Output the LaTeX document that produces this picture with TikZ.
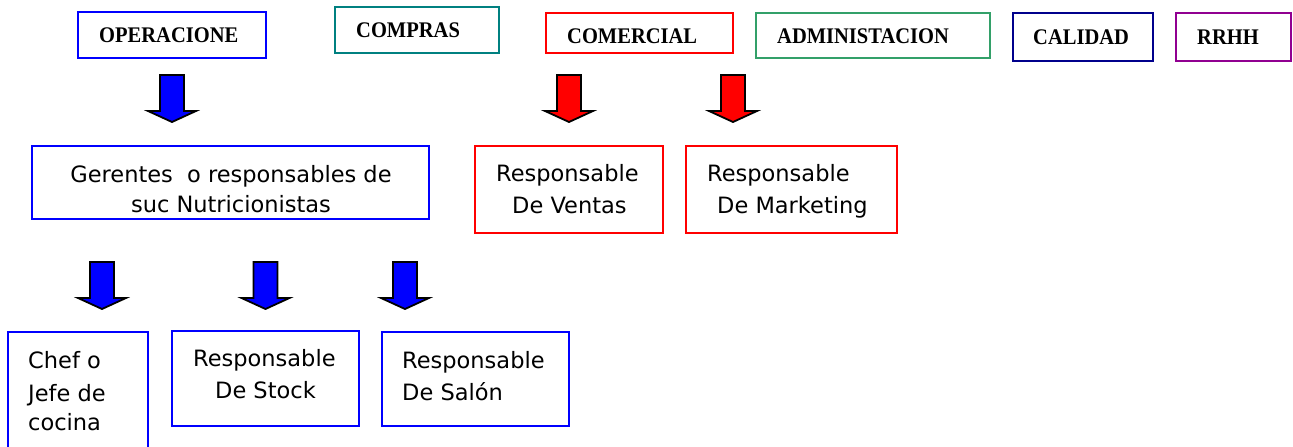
\documentclass[tikz,border=0pt]{standalone}
\usepackage{fontspec}
\setmainfont{DejaVu Sans}
\newfontfamily\titlefont[FakeStretch=0.92]{Liberation Serif}
\usetikzlibrary{fit}
\definecolor{opblue}{RGB}{0,0,255}
\definecolor{cteal}{RGB}{0,128,128}
\definecolor{cred}{RGB}{255,0,0}
\definecolor{cgreen}{RGB}{51,160,105}
\definecolor{cnavy}{RGB}{0,0,140}
\definecolor{cpurple}{RGB}{145,0,145}
\newcommand\blockdown[3]{%
  \draw[draw=black, fill=#3, line width=1.8pt, line join=miter]
    ({#1-12},#2) -- ({#1+12},#2) -- ({#1+12},{#2+36}) -- ({#1+24},{#2+36})
    -- (#1,{#2+47}) -- ({#1-24},{#2+36}) -- ({#1-12},{#2+36}) -- cycle;}
\tikzset{
  box/.style={draw=#1, line width=1.8pt, inner sep=0pt},
  ttl/.style={font=\titlefont\bfseries\fontsize{22.3}{22.3}\selectfont, inner sep=0pt, anchor=base west},
  txt/.style={font=\fontsize{22.5}{22.5}\selectfont, inner sep=0pt, anchor=base west},
  ctxt/.style={font=\fontsize{22.5}{22.5}\selectfont, inner sep=0pt, anchor=base}
}
\begin{document}
\begin{tikzpicture}[x=1pt,y=-1pt]
\useasboundingbox (0,0) rectangle (1293,447);
\clip (0,0) rectangle (1293,447);
\fill[white] (0,0) rectangle (1293,447);
% top row
\node[box=opblue, fit={(78,12)(266,58)}] (ops) {};
\node[ttl] (opsT) at (99,42) {OPERACIONE};
\node[box=cteal, fit={(335,7)(499,53)}] (com) {};
\node[ttl] (comT) at (356,37) {COMPRAS};
\node[box=cred, fit={(546,13)(733,53)}] (cml) {};
\node[ttl] (cmlT) at (567,43) {COMERCIAL};
\node[box=cgreen, fit={(756,13)(990,58)}] (adm) {};
\node[ttl] (admT) at (777,43) {ADMINISTACION};
\node[box=cnavy, fit={(1013,13)(1153,61)}] (cal) {};
\node[ttl] (calT) at (1033,44) {CALIDAD};
\node[box=cpurple, fit={(1176,13)(1291,61)}] (rrh) {};
\node[ttl] (rrhT) at (1197,44) {RRHH};
% arrows top
\blockdown{172}{75}{opblue}
\blockdown{569}{75}{cred}
\blockdown{733}{75}{cred}
% middle row
\node[box=opblue, fit={(32,146)(429,219)}] (ger) {};
\node[ctxt] at (231,182) {Gerentes\ \ o responsables de};
\node[ctxt] at (231,212) {suc Nutricionistas};
\node[box=cred, fit={(475,146)(663,233)}] (ven) {};
\node[txt] at (496,181) {Responsable};
\node[txt] at (512,213) {De Ventas};
\node[box=cred, fit={(686,146)(897,233)}] (mkt) {};
\node[txt] at (707,181) {Responsable};
\node[txt] at (717,213) {De Marketing};
% arrows bottom
\blockdown{102}{262}{opblue}
\blockdown{265.5}{262}{opblue}
\blockdown{405}{262}{opblue}
% bottom row
\node[box=opblue, fit={(8,332)(148,470)}] (chef) {};
\node[txt] at (28,368) {Chef o};
\node[txt] at (28,401) {Jefe de};
\node[txt] at (28,430) {cocina};
\node[box=opblue, fit={(172,331)(359,426)}] (stk) {};
\node[txt] at (193,366) {Responsable};
\node[txt] at (215,398) {De Stock};
\node[box=opblue, fit={(382,332)(569,426)}] (sal) {};
\node[txt] at (402,368) {Responsable};
\node[txt] at (402,400) {De Salón};
\end{tikzpicture}
\end{document}
